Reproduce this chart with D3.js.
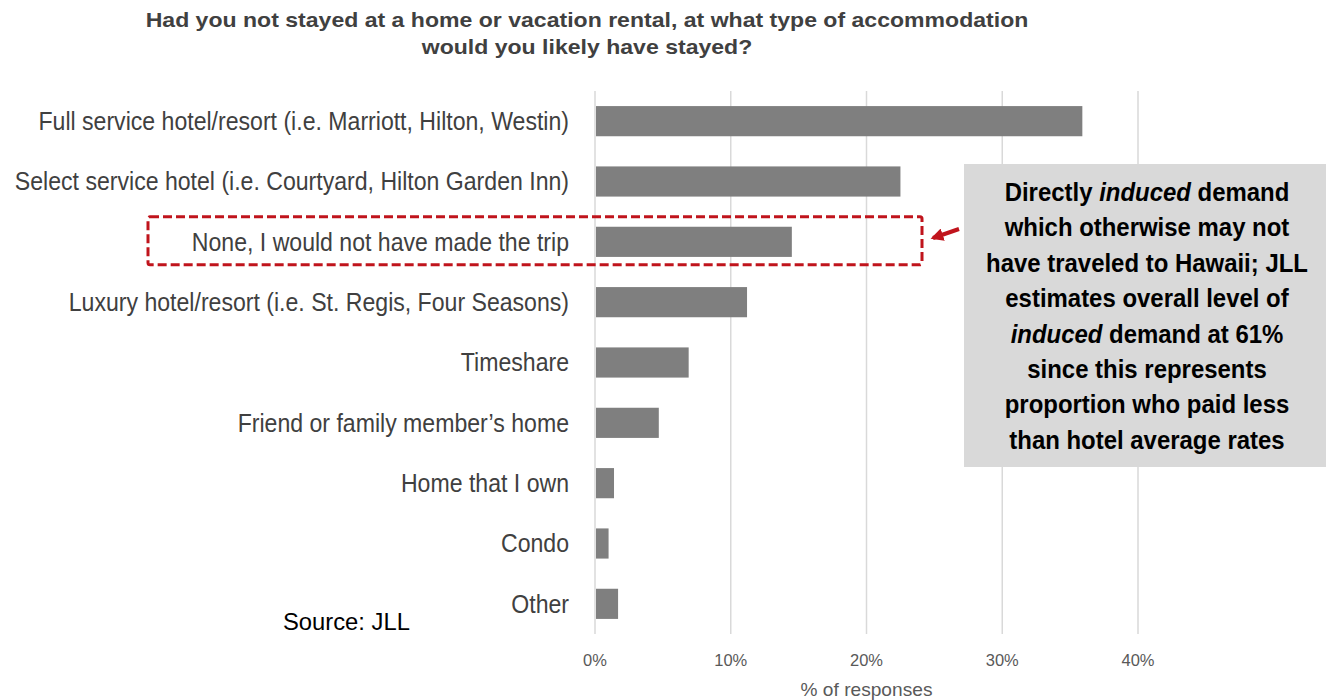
<!DOCTYPE html>
<html>
<head>
<meta charset="utf-8">
<script src="https://cdn.jsdelivr.net/npm/d3@7"></script>
<style>
  body { margin: 0; background: #fff; }
  svg text { font-family: "Liberation Sans", Arial, sans-serif; }
</style>
</head>
<body>
<svg id="grafiek" width="1326" height="700"></svg>
<script>
// categorieen en waarden (in %)
const categories = [
  "Full service hotel/resort (i.e. Marriott, Hilton, Westin)",
  "Select service hotel (i.e. Courtyard, Hilton Garden Inn)",
  "None, I would not have made the trip",
  "Luxury hotel/resort (i.e. St. Regis, Four Seasons)",
  "Timeshare",
  "Friend or family member\u2019s home",
  "Home that I own",
  "Condo",
  "Other"
];
const values = [35.9, 22.5, 14.5, 11.2, 6.9, 4.7, 1.4, 1.0, 1.7];
const ticks = [0, 10, 20, 30, 40];
const titleLines = [
  "Had you not stayed at a home or vacation rental, at what type of accommodation",
  "would you likely have stayed?"
];
// tekst in het grijze blok, stukjes met cursief
const noteLines = [
  [["Directly ", false], ["induced", true], [" demand", false]],
  [["which otherwise may not", false]],
  [["have traveled to Hawaii; JLL", false]],
  [["estimates overall level of", false]],
  [["induced", true], [" demand at 61%", false]],
  [["since this represents", false]],
  [["proportion who paid less", false]],
  [["than hotel average rates", false]]
];
const highlighted = "None, I would not have made the trip";

const svg = d3.select('#grafiek');

// geen Arial Narrow beschikbaar: tekst horizontaal smaller maken
function smal(sel, k) {
  sel.each(function () {
    const t = d3.select(this);
    t.attr('x', +t.attr('x') / k).attr('transform', 'scale(' + k + ',1)');
    t.selectAll('tspan[x]').each(function () {
      const s = d3.select(this);
      s.attr('x', +s.attr('x') / k);
    });
  });
}
// verhouding tussen gewenste breedte en gemeten breedte
function factor(node, breedte) {
  return breedte / node.getComputedTextLength();
}

//schalen
const x = d3.scaleLinear().domain([0, 40]).range([595, 1138]);
const y = d3.scaleBand().domain(categories).range([91, 634]).paddingInner(0.5).paddingOuter(0.25);

// titel
const titel = svg.append('g')
  .selectAll('text')
  .data(titleLines)
  .join('text')
  .attr('x', 587)
  .attr('y', (d, i) => 27 + i * 27)
  .attr('text-anchor', 'middle')
  .attr('font-size', 20)
  .attr('font-weight', 'bold')
  .attr('fill', '#404040')
  .text(d => d);
smal(titel, factor(titel.node(), 883));

// rasterlijnen
svg.append('g')
  .selectAll('line')
  .data(ticks)
  .join('line')
  .attr('x1', d => x(d))
  .attr('x2', d => x(d))
  .attr('y1', 91)
  .attr('y2', 634)
  .attr('stroke', '#d9d9d9')
  .attr('stroke-width', 1.5);

// x-as labels
const tickText = svg.append('g')
  .selectAll('text')
  .data(ticks)
  .join('text')
  .attr('x', d => x(d))
  .attr('y', 666)
  .attr('text-anchor', 'middle')
  .attr('font-size', 16.5)
  .attr('fill', '#595959')
  .text(d => d + '%');
smal(tickText, factor(tickText.nodes()[1], 33));

const asTitel = svg.append('text')
  .attr('x', (x(0) + x(40)) / 2)
  .attr('y', 696)
  .attr('text-anchor', 'middle')
  .attr('font-size', 18)
  .attr('fill', '#595959')
  .text('% of responses');
smal(asTitel, factor(asTitel.node(), 132));

// balken
svg.append('g')
  .selectAll('rect')
  .data(values)
  .join('rect')
  .attr('x', x(0) + 1)
  .attr('y', (d, i) => y(categories[i]))
  .attr('width', d => x(d) - x(0) - 1)
  .attr('height', y.bandwidth())
  .attr('fill', '#7f7f7f');

// categorie labels
const labels = svg.append('g')
  .selectAll('text')
  .data(categories)
  .join('text')
  .attr('x', 569)
  .attr('y', d => y(d) + y.bandwidth() / 2)
  .attr('dy', '0.35em')
  .attr('text-anchor', 'end')
  .attr('font-size', 25)
  .attr('fill', '#404040')
  .text(d => d);
smal(labels, factor(labels.node(), 531));

// rode gestippelde rand rond "None"
const yh = y(highlighted) + y.bandwidth() / 2;
svg.append('rect')
  .attr('x', 148)
  .attr('y', yh - 25)
  .attr('width', 774)
  .attr('height', 48)
  .attr('rx', 2)
  .attr('fill', 'none')
  .attr('stroke', '#c0141c')
  .attr('stroke-width', 3)
  .attr('stroke-dasharray', '9,4');

// pijl
svg.append('defs').append('marker')
  .attr('id', 'kop')
  .attr('viewBox', '0 0 10 10')
  .attr('refX', 8)
  .attr('refY', 5)
  .attr('markerWidth', 3.2)
  .attr('markerHeight', 3.2)
  .attr('orient', 'auto')
  .append('path')
  .attr('d', 'M0,0 L10,5 L0,10 Z')
  .attr('fill', '#c0141c');

svg.append('line')
  .attr('x1', 959)
  .attr('y1', 229)
  .attr('x2', 933)
  .attr('y2', 238)
  .attr('stroke', '#c0141c')
  .attr('stroke-width', 4)
  .attr('marker-end', 'url(#kop)');

// grijs notitieblok
svg.append('rect')
  .attr('x', 964)
  .attr('y', 164)
  .attr('width', 362)
  .attr('height', 303)
  .attr('fill', '#d9d9d9');

const note = svg.append('text')
  .attr('x', 1147)
  .attr('text-anchor', 'middle')
  .attr('font-size', 26)
  .attr('font-weight', 'bold')
  .attr('fill', '#000');

const regels = note.selectAll('tspan.regel')
  .data(noteLines)
  .join('tspan')
  .attr('class', 'regel')
  .attr('x', 1147)
  .attr('y', (d, i) => 201 + i * 35.4);
regels.selectAll('tspan')
  .data(d => d)
  .join('tspan')
  .attr('font-style', d => d[1] ? 'italic' : 'normal')
  .text(d => d[0]);
// breedte van de derde regel als maat
const kNote = 322 / regels.nodes()[2].getComputedTextLength();
smal(note, kNote);

// bron
const bron = svg.append('text')
  .attr('x', 283)
  .attr('y', 630)
  .attr('font-size', 24)
  .attr('fill', '#000')
  .text('Source: JLL');
smal(bron, factor(bron.node(), 127));
</script>
</body>
</html>
